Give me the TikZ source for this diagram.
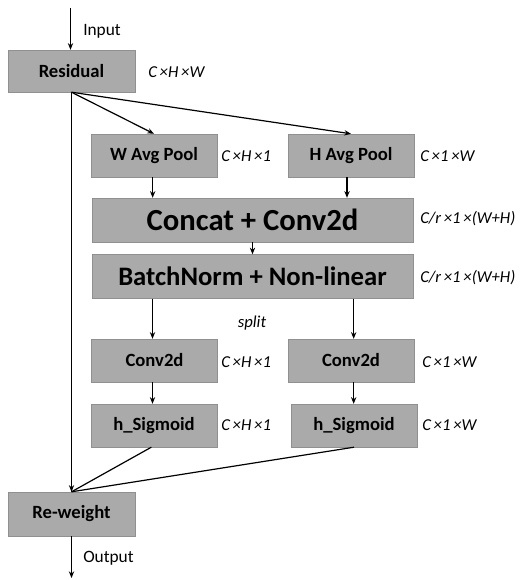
\documentclass[tikz,border=0pt]{standalone}
\usepackage{fontspec}
\setmainfont{Carlito}
\usetikzlibrary{arrows.meta,calc}
\definecolor{boxgray}{RGB}{170,170,170}
\begin{document}
\begin{tikzpicture}[x=0.75pt,y=-0.75pt,
  blk/.style={fill=boxgray,draw=boxgray!85!black,line width=0.3pt,inner sep=0pt,font=\bfseries\fontsize{14}{16}\selectfont},
  wide/.style={blk,minimum width=321*0.75pt,minimum height=44*0.75pt},
  small/.style={blk,minimum width=126*0.75pt,minimum height=43*0.75pt},
  dim/.style={anchor=west,inner sep=0pt,font=\itshape\fontsize{12.5}{14}\selectfont},
  plain/.style={anchor=west,inner sep=0pt,font=\fontsize{13}{15}\selectfont},
  con/.style={line width=0.9pt,-{Stealth[length=5pt,width=4pt]}},
  seg/.style={line width=0.9pt}]
\useasboundingbox (0,0) rectangle (526,580);
% nodes
\node[small,minimum width=127*0.75pt,minimum height=42*0.75pt] (res) at (71.5,71) {Residual};
\node[small,minimum width=127*0.75pt,minimum height=44*0.75pt] (rew) at (71.5,514) {Re-weight};
\node[small] (wp) at (154,155.5) {W Avg Pool};
\node[small] (hp) at (351,155.5) {H Avg Pool};
\node[wide,font=\bfseries\fontsize{23}{25}\selectfont] (cat) at (252.5,220) {Concat + Conv2d};
\node[wide,font=\bfseries\fontsize{20}{22}\selectfont] (bn) at (252.5,276.5) {BatchNorm + Non-linear};
\node[small] (c1) at (154.5,360.5) {Conv2d};
\node[small] (c2) at (351,360.5) {Conv2d};
\node[small] (s1) at (154,425.5) {h\_Sigmoid};
\node[small] (s2) at (354,425.5) {h\_Sigmoid};
% texts
\node[plain] (tin) at (83,31) {Input};
\node[plain] (tout) at (83,558) {Output};
\node[dim,anchor=center] (tsplit) at (252,323) {split};
\node[dim] (dres) at (148,72) {C\,×H\,×W};
\node[dim] (dwp) at (221,156) {C\,×H\,×1};
\node[dim] (dhp) at (420,156) {C\,×1\,×W};
\node[dim] (dcat) at (420,219) {C/r\,×1\,×(W+H)};
\node[dim] (dbn) at (420,278) {C/r\,×1\,×(W+H)};
\node[dim] (dc1) at (221,362) {C\,×H\,×1};
\node[dim] (dc2) at (422,362) {C\,×1\,×W};
\node[dim] (ds1) at (221,425.5) {C\,×H\,×1};
\node[dim] (ds2) at (422,425.5) {C\,×1\,×W};
\coordinate (inp) at (70.5,8);
\coordinate (outp) at (71.5,578);
% connectors
\draw[con] (inp) -- (inp |- res.north);
\draw[con] (res.south) -- (wp.north);
\draw[con] (res.south) -- (hp.north);
\draw[con] (res.south) -- (rew.north);
\draw[con] ([xshift=-1pt]wp.south) -- ([xshift=-1pt]wp.south |- cat.north);
\draw[con] ([xshift=-3pt]hp.south) -- ([xshift=-3pt]hp.south |- cat.north);
\draw[con] (cat.south) -- (bn.north);
\draw[con] ([xshift=-1.5pt]c1.north |- bn.south) -- ([xshift=-1.5pt]c1.north);
\draw[con] ([xshift=2pt]c2.north |- bn.south) -- ([xshift=2pt]c2.north);
\draw[con] ([xshift=-1.5pt]c1.south) -- ([xshift=-1.5pt]c1.south |- s1.north);
\draw[con] ([xshift=2pt]c2.south) -- ([xshift=2pt]c2.south |- s2.north);
\draw[seg] ([xshift=-2pt]s1.south) -- (rew.north);
\draw[seg] (s2.south) -- (rew.north);
\draw[con] (rew.south) -- (outp);
\end{tikzpicture}
\end{document}
